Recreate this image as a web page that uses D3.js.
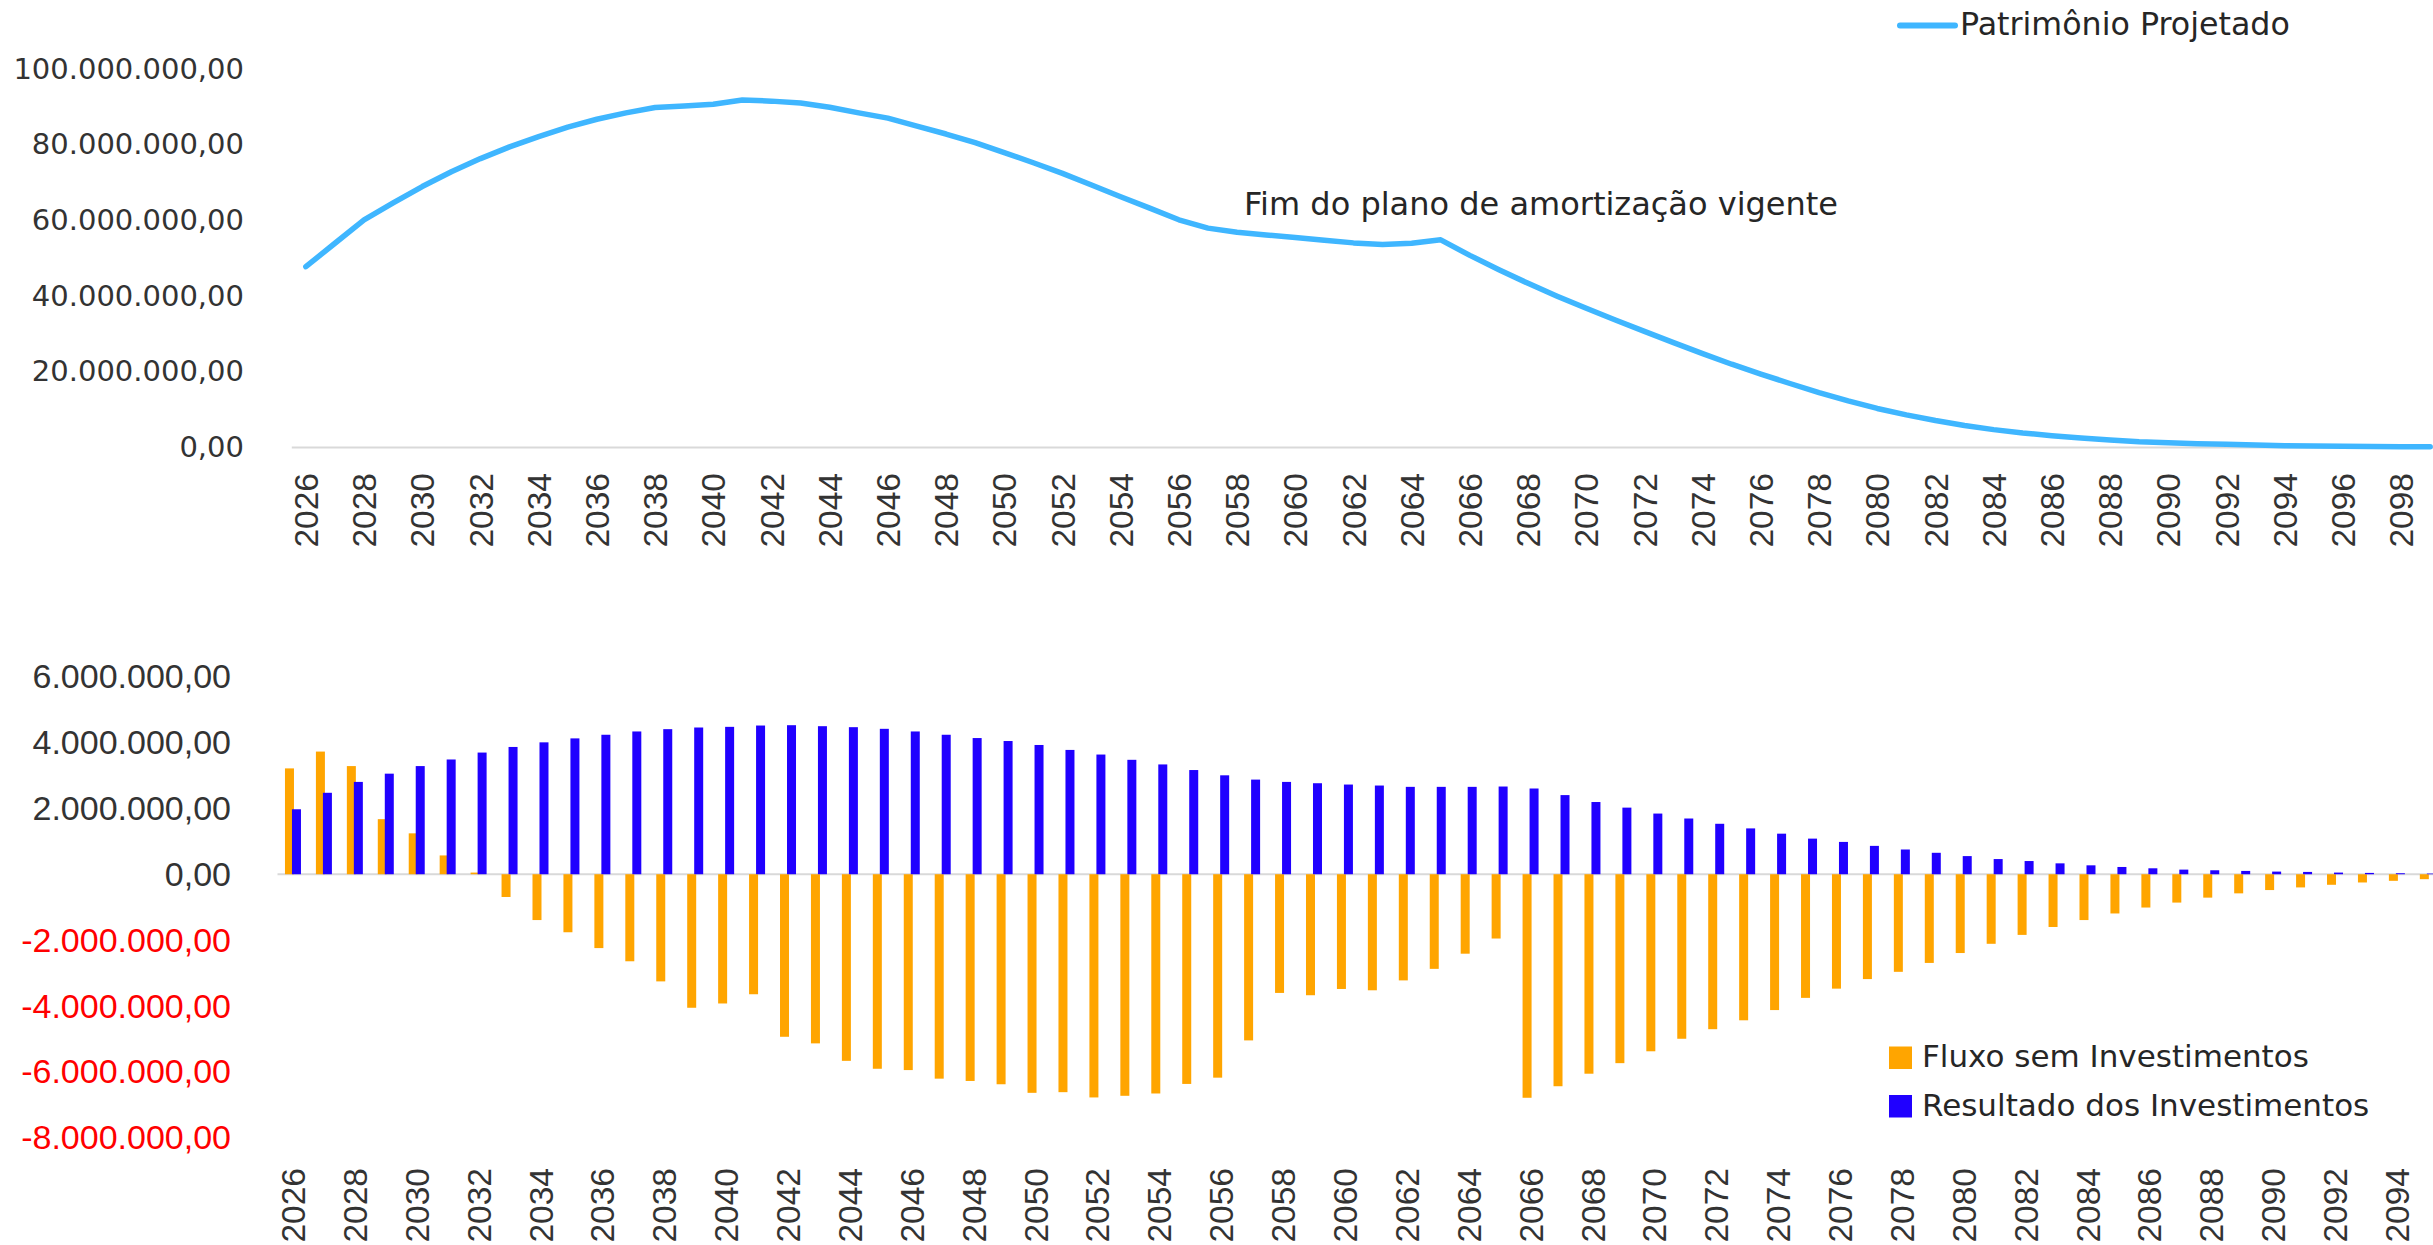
<!DOCTYPE html>
<html>
<head>
<meta charset="utf-8">
<script src="https://cdn.jsdelivr.net/npm/d3@7"></script>
<style>
  body { margin: 0; background: #ffffff; }
  svg { display: block; }
</style>
</head>
<body>
<svg id="chart" width="2433" height="1245"></svg>
<script>
// ---- Patrimônio projetado (R$), 2026–2099 ----
const anosPatrimonio = [
  2026, 2027, 2028, 2029, 2030, 2031, 2032, 2033, 2034, 2035,
  2036, 2037, 2038, 2039, 2040, 2041, 2042, 2043, 2044, 2045,
  2046, 2047, 2048, 2049, 2050, 2051, 2052, 2053, 2054, 2055,
  2056, 2057, 2058, 2059, 2060, 2061, 2062, 2063, 2064, 2065,
  2066, 2067, 2068, 2069, 2070, 2071, 2072, 2073, 2074, 2075,
  2076, 2077, 2078, 2079, 2080, 2081, 2082, 2083, 2084, 2085,
  2086, 2087, 2088, 2089, 2090, 2091, 2092, 2093, 2094, 2095,
  2096, 2097, 2098, 2099
];
const patrimonioProjetado = [
  47700000, 53900000, 60100000, 64600000, 68900000, 72800000, 76300000, 79400000, 82100000, 84600000,
  86700000, 88400000, 89800000, 90200000, 90700000, 91800000, 91500000, 91000000, 89900000, 88400000,
  87000000, 84900000, 82800000, 80500000, 77900000, 75200000, 72400000, 69300000, 66200000, 63200000,
  60100000, 57900000, 56800000, 56100000, 55400000, 54700000, 54000000, 53600000, 53900000, 54800000,
  50700000, 46900000, 43300000, 39900000, 36700000, 33600000, 30600000, 27600000, 24700000, 21900000,
  19300000, 16800000, 14400000, 12200000, 10200000, 8500000, 7000000, 5700000, 4600000, 3700000,
  3000000, 2400000, 1850000, 1400000, 1150000, 870000, 700000, 530000, 350000, 250000,
  180000, 120000, 80000, 50000
];
const ticksPatrimonio = [0, 20000000, 40000000, 60000000, 80000000, 100000000];

// ---- Fluxos anuais (R$), 2026–2095 ----
const anosFluxo = [
  2026, 2027, 2028, 2029, 2030, 2031, 2032, 2033, 2034, 2035,
  2036, 2037, 2038, 2039, 2040, 2041, 2042, 2043, 2044, 2045,
  2046, 2047, 2048, 2049, 2050, 2051, 2052, 2053, 2054, 2055,
  2056, 2057, 2058, 2059, 2060, 2061, 2062, 2063, 2064, 2065,
  2066, 2067, 2068, 2069, 2070, 2071, 2072, 2073, 2074, 2075,
  2076, 2077, 2078, 2079, 2080, 2081, 2082, 2083, 2084, 2085,
  2086, 2087, 2088, 2089, 2090, 2091, 2092, 2093, 2094, 2095
];
const fluxoSemInvestimentos = [
  3210000, 3720000, 3280000, 1670000, 1240000, 570000, 50000, -690000, -1390000, -1760000,
  -2240000, -2640000, -3250000, -4050000, -3920000, -3640000, -4930000, -5130000, -5660000, -5900000,
  -5940000, -6200000, -6270000, -6370000, -6630000, -6610000, -6770000, -6720000, -6650000, -6360000,
  -6170000, -5040000, -3600000, -3670000, -3480000, -3520000, -3220000, -2870000, -2410000, -1950000,
  -6780000, -6430000, -6050000, -5730000, -5370000, -4990000, -4700000, -4430000, -4120000, -3750000,
  -3470000, -3180000, -2960000, -2690000, -2390000, -2110000, -1840000, -1600000, -1390000, -1190000,
  -1010000, -860000, -710000, -580000, -480000, -400000, -320000, -250000, -200000, -150000
];
const resultadoInvestimentos = [
  1970000, 2470000, 2800000, 3050000, 3280000, 3480000, 3690000, 3860000, 4000000, 4120000,
  4230000, 4330000, 4400000, 4450000, 4470000, 4510000, 4520000, 4490000, 4460000, 4410000,
  4330000, 4230000, 4130000, 4040000, 3920000, 3770000, 3630000, 3470000, 3330000, 3160000,
  3000000, 2870000, 2800000, 2760000, 2720000, 2690000, 2650000, 2650000, 2650000, 2660000,
  2600000, 2400000, 2190000, 2020000, 1840000, 1690000, 1530000, 1390000, 1230000, 1080000,
  980000, 860000, 750000, 650000, 550000, 460000, 400000, 330000, 270000, 220000,
  180000, 140000, 120000, 100000, 80000, 70000, 50000, 40000, 30000, 20000
];
const ticksFluxo = [-8000000, -6000000, -4000000, -2000000, 0, 2000000, 4000000, 6000000];

// ---- Textos ----
const serieLinha = "Patrimônio Projetado";
const serieFluxo = "Fluxo sem Investimentos";
const serieResultado = "Resultado dos Investimentos";
const anotacao = "Fim do plano de amortização vigente";

// ---- Estilo ----
const corLinha = "#3FB6FF";
const corFluxo = "#FFA500";
const corResultado = "#2000FF";
const corEixo = "#D9D9D9";
const corTexto = "#333333";
const fonteTitulo = "'DejaVu Sans', sans-serif";
const fonteEixo = "'Liberation Sans', Arial, sans-serif";

const ptBR = d3.formatLocale({ decimal: ",", thousands: ".", grouping: [3], currency: ["R$ ", ""], minus: "-" });
const fmt = ptBR.format(",.2f");
const anosPares = a => a % 2 === 0;

const svg = d3.select("#chart");

// ================= Gráfico superior: patrimônio =================
const xTop = d3.scaleBand().domain(anosPatrimonio).range([291.3, 2444.7]).padding(0);
const yTop = d3.scaleLinear().domain([0, 100000000]).range([447, 69]);

// eixo Y
svg.append("g")
  .attr("transform", "translate(244,0)")
  .call(d3.axisLeft(yTop).tickValues(ticksPatrimonio).tickFormat(fmt).tickSize(0).tickPadding(0))
  .call(g => g.select(".domain").remove())
  .call(g => g.selectAll("text")
    .attr("fill", corTexto)
    .style("font-family", fonteTitulo)
    .style("font-size", "29px"));

// eixo X
svg.append("g")
  .attr("transform", `translate(0,${yTop(0)})`)
  .call(d3.axisBottom(xTop).tickValues(anosPatrimonio.filter(anosPares)).tickSize(0).tickPadding(0))
  .call(g => g.select(".domain").attr("stroke", corEixo).attr("stroke-width", 2))
  .call(g => g.selectAll("text")
    .attr("transform", "rotate(-90)")
    .attr("x", -26).attr("y", 0).attr("dy", "0.36em")
    .style("text-anchor", "end")
    .attr("fill", corTexto)
    .style("font-family", fonteEixo)
    .style("font-size", "33.5px"));

// linha
const linha = d3.line()
  .x((d, i) => xTop(anosPatrimonio[i]) + xTop.bandwidth() / 2)
  .y(d => yTop(d));
svg.append("path")
  .datum(patrimonioProjetado)
  .attr("d", linha)
  .attr("fill", "none")
  .attr("stroke", corLinha)
  .attr("stroke-width", 5.5)
  .attr("stroke-linejoin", "round")
  .attr("stroke-linecap", "round");

// anotação
svg.append("text")
  .attr("x", 1244).attr("y", 215)
  .attr("fill", "#262626")
  .style("font-family", fonteTitulo)
  .style("font-size", "32px")
  .text(anotacao);

// legenda superior
const legTop = svg.append("g");
legTop.append("line")
  .attr("x1", 1900).attr("x2", 1955).attr("y1", 25.5).attr("y2", 25.5)
  .attr("stroke", corLinha).attr("stroke-width", 6).attr("stroke-linecap", "round");
legTop.append("text")
  .attr("x", 1960).attr("y", 35)
  .attr("fill", "#262626")
  .style("font-family", fonteTitulo)
  .style("font-size", "31.7px")
  .text(serieLinha);

// ================= Gráfico inferior: fluxos =================
const xBot = d3.scaleBand().domain(anosFluxo).range([277.5, 2443.3]).padding(0);
const yBot = d3.scaleLinear().domain([-8000000, 6000000]).range([1138, 676.4]);

// eixo Y
svg.append("g")
  .attr("transform", "translate(231,0)")
  .call(d3.axisLeft(yBot).tickValues(ticksFluxo).tickFormat(fmt).tickSize(0).tickPadding(0))
  .call(g => g.select(".domain").remove())
  .call(g => g.selectAll("text")
    .attr("fill", d => d < 0 ? "#FF0000" : corTexto)
    .style("font-family", fonteEixo)
    .style("font-size", "34px"));

// eixo X (rótulos abaixo da área do gráfico)
svg.append("g")
  .attr("transform", `translate(0,${yBot(-8000000)})`)
  .call(d3.axisBottom(xBot).tickValues(anosFluxo.filter(anosPares)).tickSize(0).tickPadding(0))
  .call(g => g.select(".domain").remove())
  .call(g => g.selectAll("text")
    .attr("transform", "rotate(-90)")
    .attr("x", -30).attr("y", 0).attr("dy", "0.36em")
    .style("text-anchor", "end")
    .attr("fill", corTexto)
    .style("font-family", fonteEixo)
    .style("font-size", "33.5px"));

// linha do zero
svg.append("line")
  .attr("x1", xBot.range()[0]).attr("x2", xBot.range()[1])
  .attr("y1", yBot(0)).attr("y2", yBot(0))
  .attr("stroke", corEixo).attr("stroke-width", 2);

// barras
const larguraBarra = 9;
const centro = a => xBot(a) + xBot.bandwidth() / 2;

svg.append("g").selectAll("rect")
  .data(fluxoSemInvestimentos)
  .join("rect")
  .attr("x", (d, i) => centro(anosFluxo[i]) - 8)
  .attr("width", larguraBarra)
  .attr("y", d => Math.min(yBot(d), yBot(0)))
  .attr("height", d => Math.abs(yBot(d) - yBot(0)))
  .attr("fill", corFluxo);

svg.append("g").selectAll("rect")
  .data(resultadoInvestimentos)
  .join("rect")
  .attr("x", (d, i) => centro(anosFluxo[i]) - 1)
  .attr("width", larguraBarra)
  .attr("y", d => Math.min(yBot(d), yBot(0)))
  .attr("height", d => Math.abs(yBot(d) - yBot(0)))
  .attr("fill", corResultado);

// legenda inferior
const legBot = svg.append("g");
[[serieFluxo, corFluxo, 1046.5, 1067], [serieResultado, corResultado, 1095, 1116]].forEach(([nome, cor, yq, yt]) => {
  legBot.append("rect")
    .attr("x", 1889).attr("y", yq).attr("width", 23).attr("height", 22.5)
    .attr("fill", cor);
  legBot.append("text")
    .attr("x", 1922).attr("y", yt)
    .attr("fill", "#262626")
    .style("font-family", fonteTitulo)
    .style("font-size", "31px")
    .text(nome);
});
</script>
</body>
</html>
